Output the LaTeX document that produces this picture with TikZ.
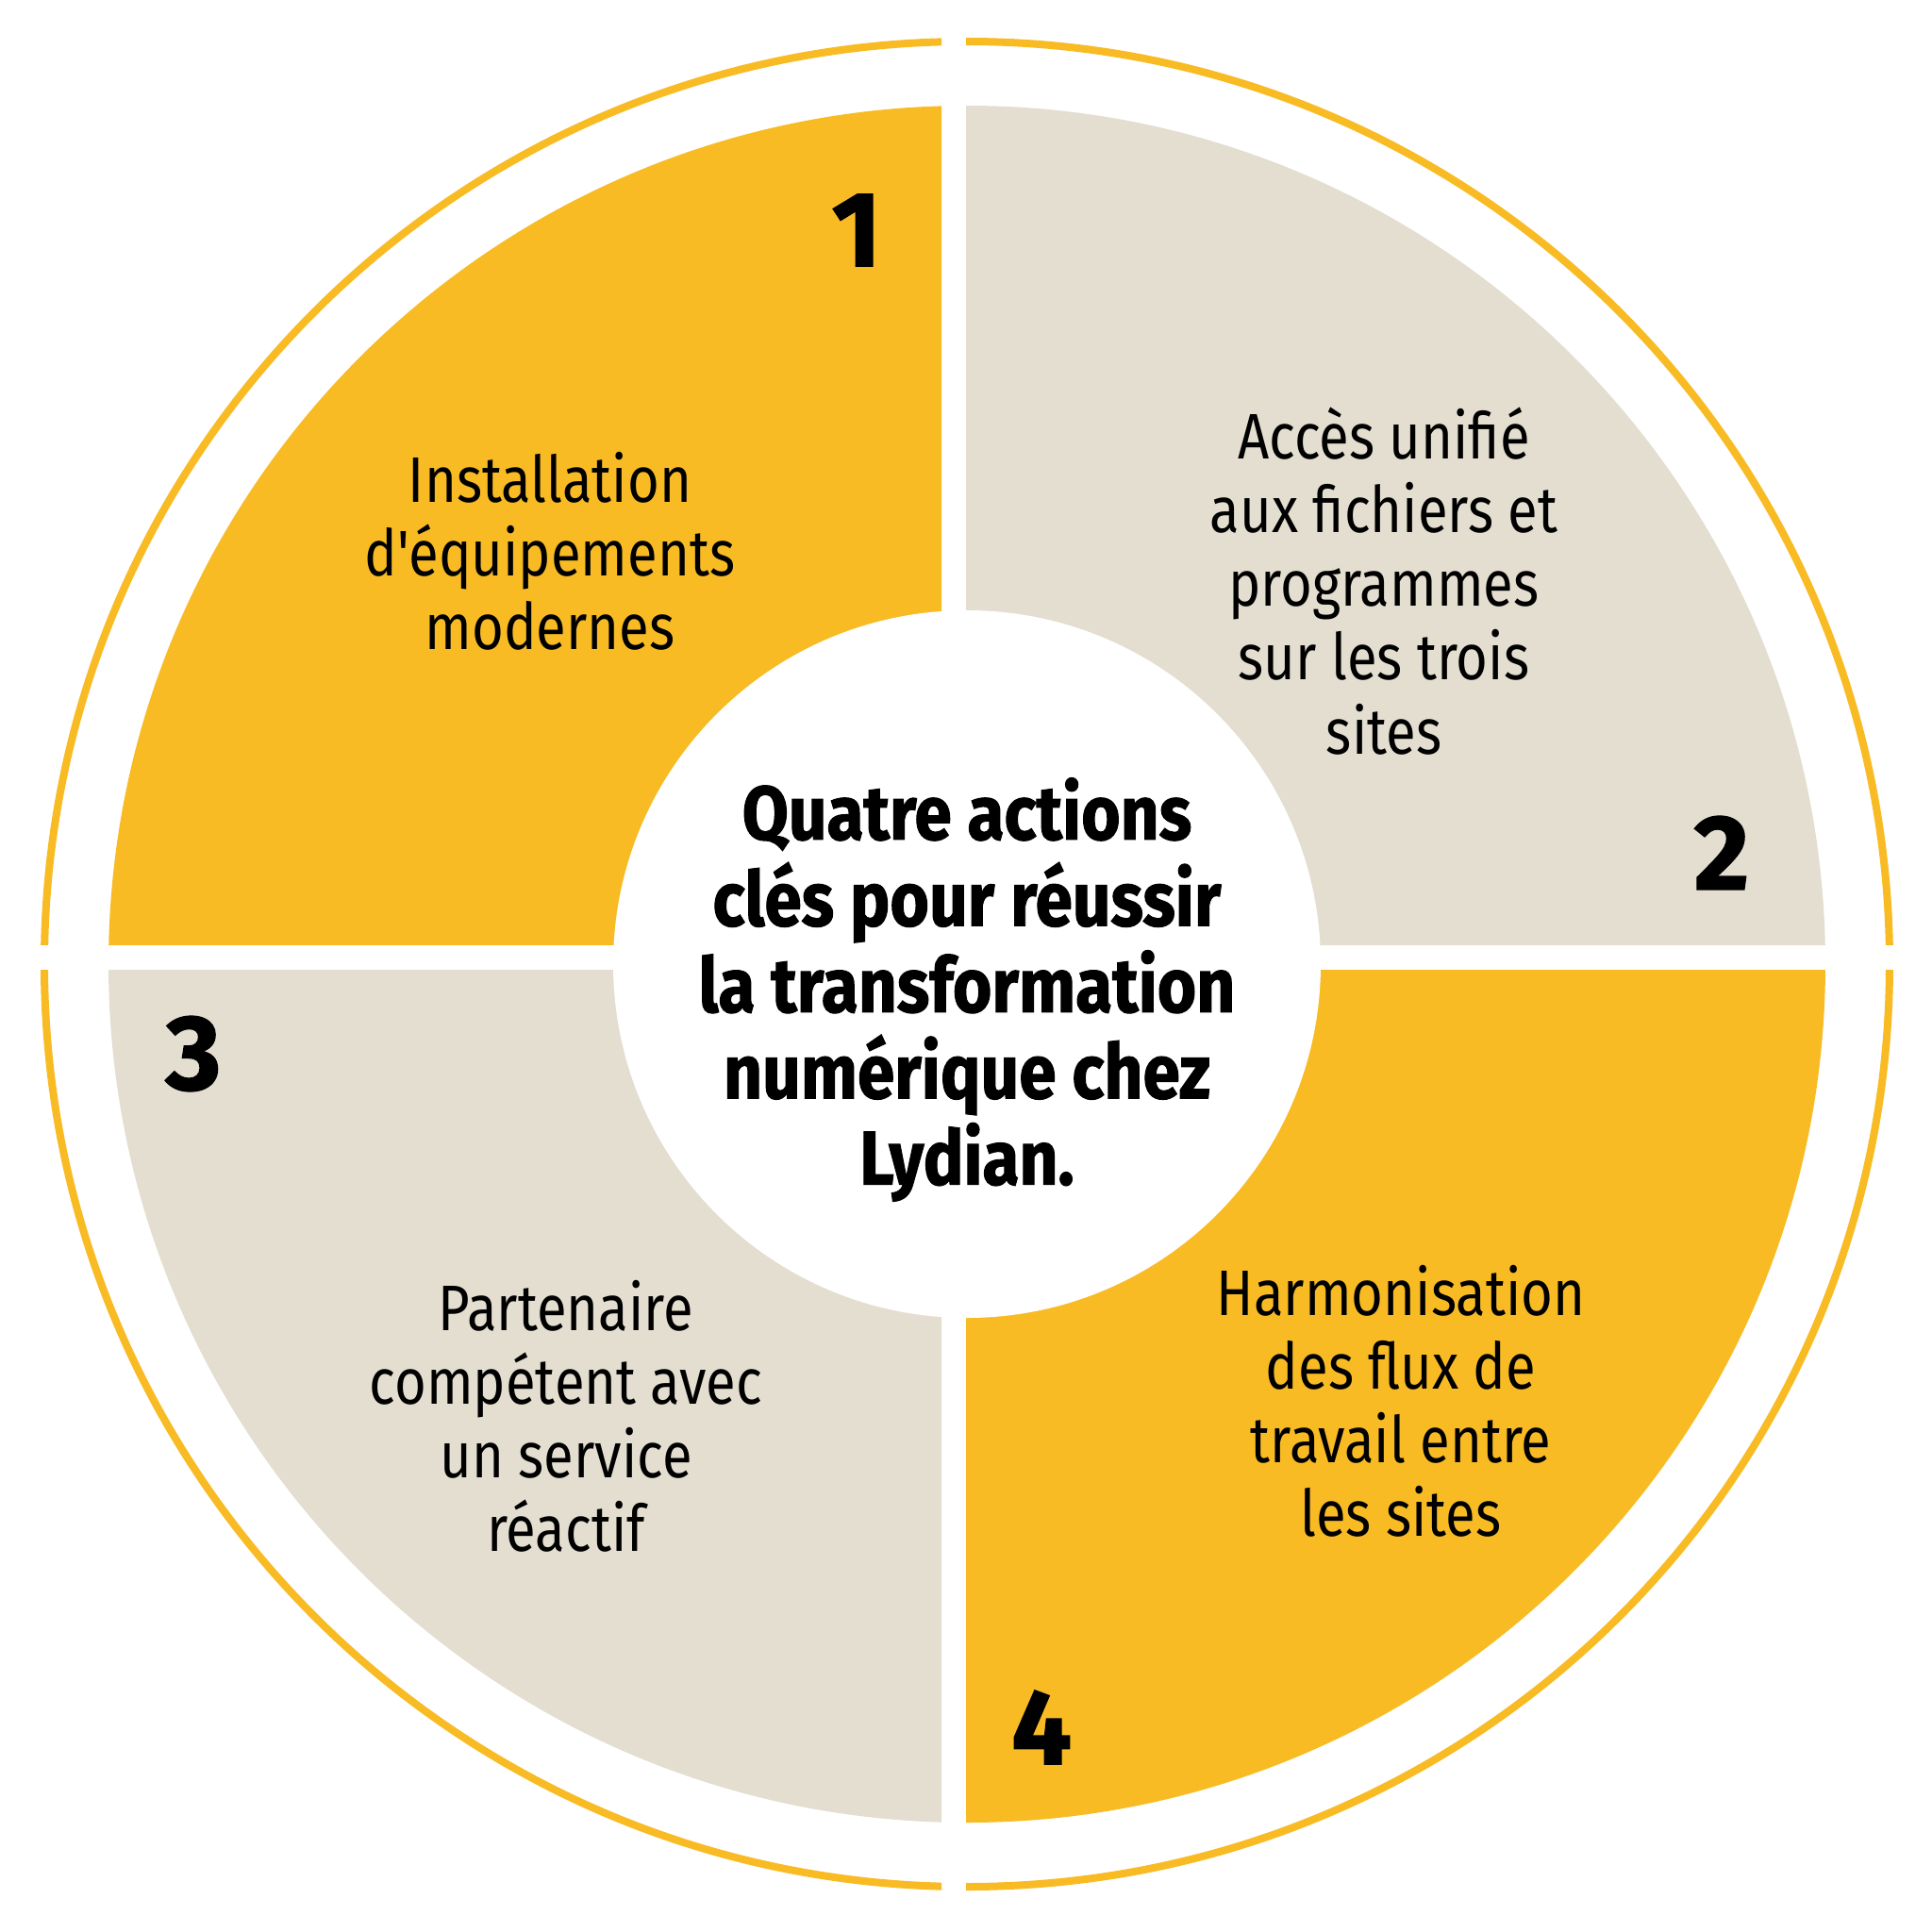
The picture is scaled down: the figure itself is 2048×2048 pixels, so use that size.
\documentclass[tikz,border=0pt]{standalone}
\usepackage{fontspec}
\setmainfont{Fira Sans}[FakeStretch=0.85, Ligatures=TeXOff]
\newfontfamily\titlefont{Fira Sans}[FakeStretch=0.88, BoldFeatures={FakeBold=1.2}]
\newfontfamily\numfont{Fira Sans}[BoldFeatures={FakeBold=1.5}]
\definecolor{gold}{RGB}{248,187,36}
\definecolor{sand}{RGB}{227,222,208}
\begin{document}
\begin{tikzpicture}[x=0.01cm,y=-0.01cm,
  ringline/.style={draw=gold,line width=8*0.2845pt},
  bodytxt/.style={align=center,font=\fontsize{19.4}{22.2}\selectfont,text=black,inner sep=0pt},
  numtxt/.style={font=\numfont\fontsize{32}{32}\selectfont\bfseries,text=black,inner sep=0pt},
  titletxt/.style={align=center,font=\titlefont\fontsize{23}{26}\selectfont\bfseries,text=black,inner sep=0pt}]
\useasboundingbox (0,0) rectangle (2048,2048);
\fill[white] (0,0) rectangle (2048,2048);
\coordinate (c) at (1025,1022);
% top-left
\begin{scope}
  \clip (0,0) rectangle (998,1001);
  \fill[gold] (c) circle[radius=910];
  \draw[ringline] (c) circle[radius=978];
\end{scope}
% top-right
\begin{scope}
  \clip (1024,0) rectangle (2048,1001);
  \fill[sand] (c) circle[radius=910];
  \draw[ringline] (c) circle[radius=978];
\end{scope}
% bottom-left
\begin{scope}
  \clip (0,1028) rectangle (998,2048);
  \fill[sand] (c) circle[radius=910];
  \draw[ringline] (c) circle[radius=978];
\end{scope}
% bottom-right
\begin{scope}
  \clip (1024,1028) rectangle (2048,2048);
  \fill[gold] (c) circle[radius=910];
  \draw[ringline] (c) circle[radius=978];
\end{scope}
\fill[white] (c) circle[radius=375];

\node[titletxt] (title) at (1025,1049) {Quatre actions\\clés pour réussir\\la transformation\\numérique chez\\Lydian.};

\node[numtxt] (n1) at (908,244) {1};
\node[numtxt] (n2) at (1825,904) {2};
\node[numtxt] (n3) at (205,1117) {3};
\node[numtxt] (n4) at (1104,1831) {4};

\node[bodytxt] (t1) at (583,584) {Installation\\d'équipements\\modernes};
\node[bodytxt] (t2) at (1467,616) {Accès unifié\\aux fichiers et\\programmes\\sur les trois\\sites};
\node[bodytxt] (t3) at (600,1501) {Partenaire\\compétent avec\\un service\\réactif};
\node[bodytxt] (t4) at (1485,1485) {Harmonisation\\des flux de\\travail entre\\les sites};
\end{tikzpicture}
\end{document}
